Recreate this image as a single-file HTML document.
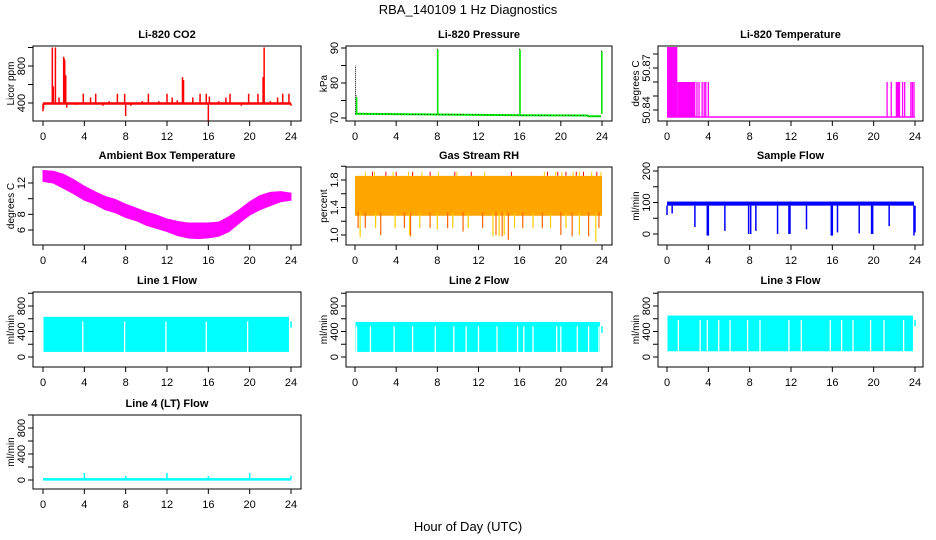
<!DOCTYPE html>
<html><head><meta charset="utf-8"><title>RBA_140109 1 Hz Diagnostics</title>
<style>
html,body{margin:0;padding:0;background:#fff;}
svg{display:block;font-family:"Liberation Sans",Arial,sans-serif;}
</style></head>
<body>
<svg id="chart" width="936" height="540" viewBox="0 0 936 540">
<text x="468" y="14" text-anchor="middle" font-size="13">RBA_140109  1 Hz Diagnostics</text>
<text x="468" y="531" text-anchor="middle" font-size="13">Hour of Day (UTC)</text>
</svg>
<script>
// ---------- data ----------
const hourTicks = [0,4,8,12,16,20,24];

const co2Base = 395;
const co2SpikeHours = [0.0,0.05,0.9,1.0,1.2,1.55,2.0,2.05,2.1,2.2,2.3,3.2,3.9,4.6,5.1,5.8,6.4,7.2,7.9,8.0,8.5,9.6,10.2,11.2,12.0,12.5,13.0,13.5,13.6,14.5,15.2,15.8,16.0,16.1,17.0,17.7,18.1,19.2,19.9,20.8,21.3,21.4,22.0,22.7,23.2,23.8,24.0];
const co2SpikeValues = [310,340,1000,580,1000,460,900,880,860,700,350,380,500,460,500,370,420,500,500,260,370,420,500,420,500,460,430,680,650,460,500,500,200,470,420,460,500,370,500,500,680,1000,420,460,500,500,370];

const pressBaseHours = [0,8,16,22.6,22.65,23.9];
const pressBaseValues = [71.2,71.0,70.8,70.7,70.5,70.5];
const pressSpikeHours = [0.05,0.12,8.0,16.0,23.95];
const pressSpikeValues = [85,76.5,90,90,89.5];

const tempBase = 50.835;
const tempBlockStart = [0,1.0];
const tempBlockEnd = [1.0,2.75];
const tempBlockLevel = [50.885,50.86];
const tempSpikeHours = [2.9,3.1,3.4,3.6,3.75,4.0,21.3,21.7,22.2,22.3,22.4,22.5,22.8,23.0,23.6,23.75,23.9];
const tempSpikeLevel = 50.86;

const ambHours = [0,1,2,3,4,5,6,7,8,9,10,11,12,13,14,15,16,17,18,19,20,21,22,23,24];
const ambUpper = [13.6,13.5,13.1,12.4,11.6,10.9,10.3,9.9,9.3,8.8,8.3,7.9,7.4,7.1,6.9,6.9,6.9,7.0,7.7,8.6,9.6,10.4,10.8,10.9,10.7];
const ambLower = [12.2,12.0,11.3,10.6,9.8,9.3,8.6,8.2,7.6,7.2,6.6,6.2,5.8,5.3,5.0,4.9,5.0,5.2,5.8,6.9,7.9,8.6,9.1,9.6,9.8];

const rhTop = 1.86;
const rhBottom = 1.28;
const rhDipHours = [0.3,0.5,1.0,2.0,2.5,3.9,4.8,5.3,5.4,6.3,7.3,8.0,9.0,9.5,10.5,11.0,12.4,13.4,13.7,14.0,14.3,14.5,14.9,15.5,16.3,17.3,18.2,19.0,20.0,20.5,21.1,21.8,22.7,23.4,23.7];
const rhDipValues = [1.1,0.97,1.1,1.1,1.0,1.1,1.1,1.0,0.98,1.1,1.1,1.08,1.1,1.1,1.05,1.1,1.1,0.98,1.0,0.98,0.98,1.0,0.93,1.1,1.1,1.1,1.1,1.1,1.0,1.1,0.98,1.0,0.98,0.9,1.1];
const rhUpHours = [1.0,1.7,1.9,3.0,3.7,4.0,5.2,5.6,6.5,7.3,8.1,9.7,9.9,11.3,12.6,15.2,18.4,18.7,19.5,19.7,20.1,20.5,21.2,21.5,21.8,22.2,23.0,23.5,23.9];
const rhUpValue = 1.92;

const sfBandLow = 90, sfBandHigh = 103;
const sfDipHours = [0.0,0.5,2.7,3.9,4.0,5.6,7.9,8.1,8.6,10.7,11.8,11.9,13.5,15.9,16.0,16.5,18.6,19.8,19.9,21.5,23.9,24.0];
const sfDipValues = [60,65,22,-5,-5,10,0,0,10,0,0,0,15,-5,-5,5,2,0,0,25,-5,5];

const line1Top = 630, line1Bottom = 80;
const line1GapHours = [3.85,7.9,11.9,15.8,19.8];
const line2Top = 550, line2Bottom = 80;
const line2GapHours = [0.15,1.5,3.8,5.6,7.8,9.6,10.8,12.0,13.8,15.8,16.4,17.3,19.6,20.0,21.6,22.7,23.7];
const line3Top = 650, line3Bottom = 90;
const line3GapHours = [1.1,3.2,3.9,5.0,6.1,7.8,9.0,11.8,13.0,15.8,16.9,18.0,19.7,21.0,22.9];

const line4Base = 10;
const line4SpikeHours = [4,8,12,16,20,24];
const line4SpikeValues = [110,60,110,60,110,60];

// ---------- layout ----------
const NS = 'http://www.w3.org/2000/svg';
const svg = document.getElementById('chart');
const colBox = [[33,301],[346,612],[658,923]];
const colX = [[43,291],[355,602],[667,915]];
const rowBox = [[46,121],[167,245],[292,367],[415,489]];

function mk(tag, attrs, parent){
  const el = document.createElementNS(NS, tag);
  for (const k in attrs) el.setAttribute(k, attrs[k]);
  (parent||svg).appendChild(el);
  return el;
}

function panel(name, title, ylab, col, row, yref, yTicks, yLabels){
  const g = mk('g', {});
  
  
  const [bx0,bx1] = colBox[col], [by0,by1] = rowBox[row];
  const [h0,h24] = colX[col];
  const xs = h => h0 + h*(h24-h0)/24;
  const ys = v => yref[1] + (v - yref[0])*(yref[3]-yref[1])/(yref[2]-yref[0]);
  const plot = mk('g', {}, g);
  
  
  const clipId = 'clip-' + name;
  const cp = mk('clipPath', {id: clipId}, g);
  mk('rect', {x:bx0, y:by0, width:bx1-bx0, height:by1-by0}, cp);
  plot.setAttribute('clip-path', 'url(#' + clipId + ')');
  const box = mk('rect', {x:bx0, y:by0, width:bx1-bx0, height:by1-by0, fill:'none', stroke:'#000', 'stroke-width':1}, g);
  
  
  const t = mk('text', {x:(bx0+bx1)/2, y:by0-8, 'text-anchor':'middle', 'font-size':11, 'font-weight':'bold'}, g);
  t.textContent = title;
  
  
  const xa = mk('g', {}, g);
  
  
  mk('line', {x1:xs(0), x2:xs(24), y1:by1, y2:by1, stroke:'#000'}, xa);
  hourTicks.forEach(h => {
    mk('line', {x1:xs(h), x2:xs(h), y1:by1, y2:by1+5, stroke:'#000'}, xa);
    const l = mk('text', {x:xs(h), y:by1+19, 'text-anchor':'middle', 'font-size':11}, xa);
    l.textContent = h;
    
    
  });
  const ya = mk('g', {}, g);
  
  
  mk('line', {x1:bx0, x2:bx0, y1:ys(yTicks[0]), y2:ys(yTicks[yTicks.length-1]), stroke:'#000'}, ya);
  yTicks.forEach(v => { mk('line', {x1:bx0-5, x2:bx0, y1:ys(v), y2:ys(v), stroke:'#000'}, ya); });
  yLabels.forEach(v => {
    const yy = ys(parseFloat(v));
    const l = mk('text', {x:bx0-8, y:yy, 'text-anchor':'middle', 'font-size':11, transform:'rotate(-90 '+(bx0-8)+' '+yy+')'}, ya);
    l.textContent = v;
    
    
  });
  const ym = (by0+by1)/2;
  const yt = mk('text', {x:bx0-19, y:ym, 'text-anchor':'middle', 'font-size':10, transform:'rotate(-90 '+(bx0-19)+' '+ym+')'}, g);
  yt.textContent = ylab;
  
  
  return {plot, xs, ys};
}

function vline(p, h, v1, v2, color, w, extra){
  const a = {x1:p.xs(h), x2:p.xs(h), y1:p.ys(v1), y2:p.ys(v2), stroke:color, 'stroke-width':w};
  if (extra) for (const k in extra) a[k] = extra[k];
  return mk('line', a, p.plot);
}
function poly(p, hs, vs, color, w){
  return mk('polyline', {points: hs.map((h,i)=>p.xs(h)+','+p.ys(vs[i])).join(' '), fill:'none', stroke:color, 'stroke-width':w}, p.plot);
}
function band(p, h1, h2, lo, hi, fill){
  return mk('rect', {x:p.xs(h1), y:p.ys(hi), width:p.xs(h2)-p.xs(h1), height:p.ys(lo)-p.ys(hi), fill:fill}, p.plot);
}

// ---- Panel 1: CO2
let p = panel('co2', 'Li-820 CO2', 'Licor ppm', 0, 0, [400,103,800,66], [400,600,800,1000], ['400','800']);
co2SpikeHours.forEach((h,i) => {
  const el = vline(p, h, co2Base, co2SpikeValues[i], '#ff0000', 1.5);
  
  
});
let el = poly(p, [0,24], [co2Base,co2Base], '#ff0000', 2.5);



// ---- Panel 2: Pressure
p = panel('pressure', 'Li-820 Pressure', 'kPa', 1, 0, [70,118,90,48], [70,75,80,85,90], ['70','80','90']);
pressSpikeHours.forEach((h,i) => {
  let e = vline(p, h, pressBaseValues[0], pressSpikeValues[i], '#000', 1, {'stroke-dasharray':'1,1'});
  
  
  if (i > 0) {
    e = vline(p, h + 0.04, pressBaseValues[0], pressSpikeValues[i] - 0.5, '#00ee00', 1.5);
    
    
  }
});
el = poly(p, pressBaseHours, pressBaseValues, '#00ee00', 2);


el = poly(p, pressBaseHours, pressBaseValues, '#000', 0.6);
el.setAttribute('stroke-dasharray', '1,2');



// ---- Panel 3: Temperature
p = panel('li820-temp', 'Li-820 Temperature', 'degrees C', 2, 0, [50.84,110,50.87,68], [50.84,50.85,50.86,50.87,50.88], ['50.84','50.87']);
tempBlockStart.forEach((s,i) => {
  const e = band(p, s, tempBlockEnd[i], tempBase, tempBlockLevel[i], '#ff00ff');
  
  
});
tempSpikeHours.forEach(h => {
  const e = vline(p, h, tempBase, tempSpikeLevel, '#ff00ff', 1.3);
  
  
});
el = poly(p, [0,24], [tempBase,tempBase], '#ff00ff', 1.5);



// ---- Panel 4: Ambient box temperature
p = panel('ambient-temp', 'Ambient Box Temperature', 'degrees C', 0, 1, [6,230,12,183], [6,8,10,12], ['6','8','12']);
el = mk('polygon', {points: ambHours.map((h,i)=>p.xs(h)+','+p.ys(ambUpper[i])).concat(ambHours.slice().reverse().map((h,j)=>{const i=ambHours.length-1-j; return p.xs(h)+','+p.ys(ambLower[i]);})).join(' '), fill:'#ff00ff', stroke:'#ff00ff', 'stroke-width':1}, p.plot);



// ---- Panel 5: Gas stream RH
p = panel('rh', 'Gas Stream RH', 'percent', 1, 1, [1.0,235,1.8,180], [1.0,1.2,1.4,1.6,1.8,2.0], ['1.0','1.4','1.8']);
el = band(p, 0, 24, rhBottom, rhTop, '#ffa500');


rhDipHours.forEach((h,i) => {
  const e = vline(p, h, rhBottom + 0.05, rhDipValues[i], i%2 ? '#ffcc00' : '#ff6600', 1.2);
  
  
});
rhUpHours.forEach((h,i) => {
  const e = vline(p, h, rhTop, rhUpValue, i%2 ? '#ff0000' : '#ffcc00', 1);
  
  
});

// ---- Panel 6: Sample flow
p = panel('sample-flow', 'Sample Flow', 'ml/min', 2, 1, [0,234,200,171], [0,50,100,150,200], ['0','100','200']);
el = band(p, 0, 23.9, sfBandLow, sfBandHigh, '#0000ff');


sfDipHours.forEach((h,i) => {
  const e = vline(p, h, sfBandLow, sfDipValues[i], '#0000ff', 1.5);
  
  
});

// ---- Panels 7-9: Line flows
function linePanel(name, title, col, row, top, bottom, gaps){
  const q = panel(name, title, 'ml/min', col, row, [0,357,800,306], [0,200,400,600,800,1000], ['0','400','800']);
  let e = band(q, 0.05, 23.8, bottom, top, '#00ffff');
  
  
  gaps.forEach(h => {
    const g2 = vline(q, h, bottom - 10, top - 70, '#ffffff', 1.3);
    
    
  });
  e = vline(q, 24, top - 170, top - 70, '#00ffff', 1.5);
  
  
  return q;
}
linePanel('line1-flow', 'Line 1 Flow', 0, 2, line1Top, line1Bottom, line1GapHours);
linePanel('line2-flow', 'Line 2 Flow', 1, 2, line2Top, line2Bottom, line2GapHours);
linePanel('line3-flow', 'Line 3 Flow', 2, 2, line3Top, line3Bottom, line3GapHours);

// ---- Panel 10: Line 4 flow
p = panel('line4-flow', 'Line 4 (LT) Flow', 'ml/min', 0, 3, [0,480,800,428], [0,200,400,600,800,1000], ['0','400','800']);
el = poly(p, [0,24], [line4Base,line4Base], '#00ffff', 2.5);


line4SpikeHours.forEach((h,i) => {
  const e = vline(p, h, line4Base, line4SpikeValues[i], '#00ffff', 1.5);
  
  
});
</script>
</body></html>
